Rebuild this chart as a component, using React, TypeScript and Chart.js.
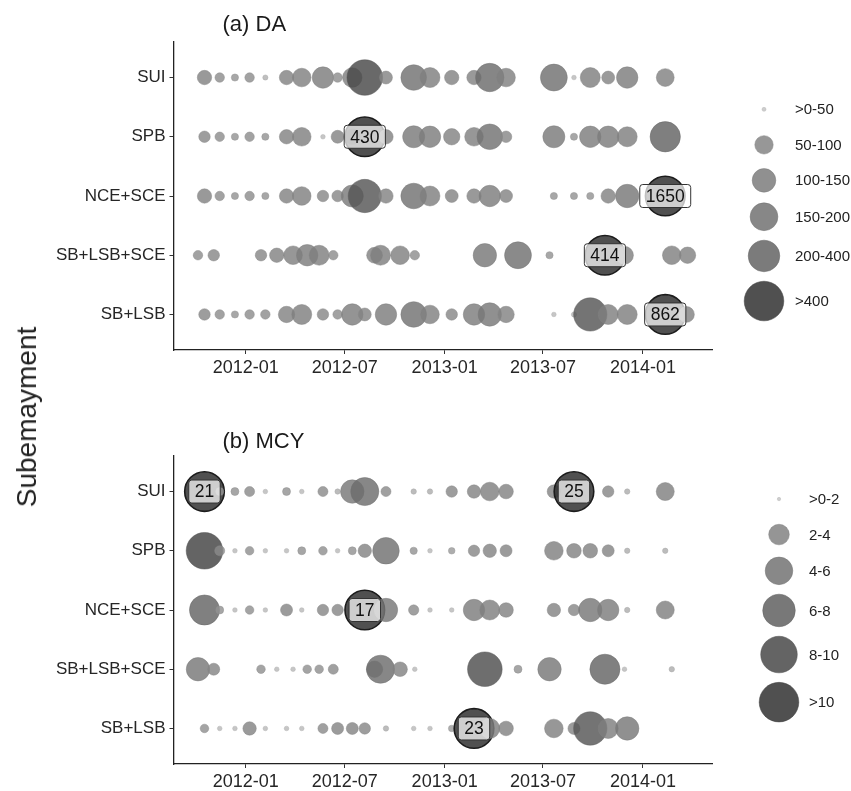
import React, { useEffect, useRef } from "react";
import { Chart, registerables } from "chart.js";

Chart.register(...registerables);

// ---------------- data ----------------
const sites = ["SUI", "SPB", "NCE+SCE", "SB+LSB+SCE", "SB+LSB"];

const datesMain = [
  "2011-10-17", "2011-11-14", "2011-12-12", "2012-01-08", "2012-02-06", "2012-03-16",
  "2012-04-13", "2012-05-22", "2012-06-18", "2012-07-15", "2012-08-07", "2012-09-15",
  "2012-11-05", "2012-12-05", "2013-01-14", "2013-02-24", "2013-03-25", "2013-04-24",
  "2013-07-21", "2013-08-27", "2013-09-26", "2013-10-29", "2013-12-03", "2014-02-11",
  "2014-03-22",
];
const datesSCE = [
  "2011-10-05", "2011-11-03", "2012-01-29", "2012-02-27", "2012-03-28", "2012-04-23",
  "2012-05-15", "2012-06-10", "2012-08-25", "2012-09-05", "2012-10-11", "2012-11-07",
  "2013-03-16", "2013-05-16", "2013-07-13", "2013-10-23", "2013-11-28", "2014-02-23",
  "2014-03-24",
];

// (a) DA
const daSUI = [36, 19, 11, 19, 4, 36, 52, 79, 19, 60, 300, 31, 124, 65, 36, 36, 158, 52, 139, 2, 65, 31, 79, 48, null];
const daSPB = [26, 19, 11, 19, 11, 36, 52, 2, 31, 40, 430, 36, 85, 79, 43, 52, 124, 26, 85, 11, 79, 79, 65, 183, null];
const daNCE = [36, 19, 11, 19, 11, 36, 52, 26, 26, 85, 242, 36, 124, 65, 31, 36, 79, 31, 11, 11, 11, 36, 98, 1650, null];
const daSCE = [19, 26, 26, 36, 52, 79, 65, 19, 41, 65, 52, 19, 98, 139, 11, 414, 48, 52, 43];
const daSBLSB = [26, 19, 11, 19, 19, 43, 65, 26, 19, 79, 31, 79, 124, 52, 26, 79, 98, 43, 2, 4, 242, 65, 65, 862, 41];

// (b) MCY
const mcySUI = [21, 0.53, 0.53, 0.77, 0.14, 0.53, 0.14, 0.77, 0.23, 2.8, 4.2, 0.77, 0.23, 0.23, 0.93, 1.16, 1.77, 1.3, 1.16, 25, null, 0.93, 0.23, 1.7, null];
const mcySPB = [8, 0.77, 0.14, 0.6, 0.14, 0.14, 0.53, 0.6, 0.14, 0.53, 1.16, 3.7, 0.45, 0.14, 0.37, 0.93, 1.16, 1.0, 1.77, 1.3, 1.3, 1.0, 0.23, 0.23, null];
const mcyNCE = [5, 0.53, 0.14, 0.6, 0.14, 1.0, 0.14, 0.93, 0.93, null, 17, 2.8, 0.8, 0.14, 0.14, 2.23, 1.93, 1.3, 1.16, 0.93, 2.8, 2.23, 0.23, 1.7, null];
const mcySCE = [2.8, 1.0, 0.6, 0.14, 0.14, 0.6, 0.6, 0.77, 1.5, 4.2, 1.3, 0.14, 7, 0.53, 2.8, 5, 0.14, 0.23, null];
const mcySBLSB = [0.6, 0.14, 0.14, 1.16, 0.14, 0.14, 0.14, 0.77, 1.0, 1.0, 0.93, 0.23, 0.14, 0.14, 0.37, 23, 1.93, 1.3, 1.77, 1.0, 6.4, 1.93, 2.8, null, null];

const tickDates = ["2012-01-01", "2012-07-01", "2013-01-01", "2013-07-01", "2014-01-01"];
const tickLabels = ["2012-01", "2012-07", "2013-01", "2013-07", "2014-01"];

const daLegendLabels = [">0-50", "50-100", "100-150", "150-200", "200-400", ">400"];
const daLegendValues = [0, 50, 100, 150, 200, 400];
const mcyLegendLabels = [">0-2", "2-4", "4-6", "6-8", "8-10", ">10"];
const mcyLegendValues = [0, 2, 4, 6, 8, 10];

// ---------------- helpers ----------------
const FONT = '"Liberation Sans", Arial, Helvetica, sans-serif';
const W = 851;

const toDay = (s: string) => {
  const [y, m, d] = s.split("-").map(Number);
  return Date.UTC(y, m - 1, d) / 86400000;
};

const allDays = [...datesMain, ...datesSCE].map(toDay);
const dMin = Math.min(...allDays);
const dMax = Math.max(...allDays);
const dExp = (dMax - dMin) * 0.05;
const xMin = dMin - dExp;
const xMax = dMax + dExp;

function interp(stops: number[][], x: number) {
  if (x <= stops[0][0]) return stops[0][1];
  for (let i = 1; i < stops.length; i++) {
    if (x <= stops[i][0]) {
      const [x0, y0] = stops[i - 1];
      const [x1, y1] = stops[i];
      return y0 + ((x - x0) / (x1 - x0)) * (y1 - y0);
    }
  }
  return stops[stops.length - 1][1];
}

const COLOR_STOPS = [[2, 205], [3.5, 168], [6, 155], [10, 150], [13.8, 136], [16.3, 120], [18.3, 100], [20, 78]];
const ALPHA = 0.82;
function fillFor(r: number) {
  const t = interp(COLOR_STOPS, r);
  const b = Math.max(0, Math.round(255 - (255 - t) / ALPHA));
  return `rgba(${b},${b},${b},${ALPHA})`;
}
function edgeFor(r: number) {
  const t = interp(COLOR_STOPS, r) - 22;
  const b = Math.max(0, Math.round(t));
  return `rgba(${b},${b},${b},0.6)`;
}

type Row = { dates: string[]; values: (number | null)[] };
type Panel = {
  title: string;
  rows: Row[];
  sizeStops: number[][];
  cap: number;
  labelMin: number;
  legendLabels: string[];
  legendValues: number[];
  height: number;
  areaTop: number;
  areaBottom: number;
  titleY: number;
  legendCx: number;
  legendTx: number;
  legendShift: number;
};

const panels: Panel[] = [
  {
    title: "(a) DA",
    rows: [
      { dates: datesMain, values: daSUI },
      { dates: datesMain, values: daSPB },
      { dates: datesMain, values: daNCE },
      { dates: datesSCE, values: daSCE },
      { dates: datesMain, values: daSBLSB },
    ],
    sizeStops: [[0, 2], [50, 9.2], [100, 11.8], [150, 13.9], [200, 15.8], [400, 19.8]],
    cap: 400,
    labelMin: 400,
    legendLabels: daLegendLabels,
    legendValues: daLegendValues,
    height: 395,
    areaTop: 42,
    areaBottom: 350,
    titleY: 25,
    legendCx: 52,
    legendTx: 83,
    legendShift: 12.6,
  },
  {
    title: "(b) MCY",
    rows: [
      { dates: datesMain, values: mcySUI },
      { dates: datesMain, values: mcySPB },
      { dates: datesMain, values: mcyNCE },
      { dates: datesSCE, values: mcySCE },
      { dates: datesMain, values: mcySBLSB },
    ],
    sizeStops: [[0, 1.7], [2, 10.3], [4, 13.8], [6, 16.3], [8, 18.3], [10, 19.8]],
    cap: 10,
    labelMin: 15,
    legendLabels: mcyLegendLabels,
    legendValues: mcyLegendValues,
    height: 396,
    areaTop: 61,
    areaBottom: 369,
    titleY: 46.5,
    legendCx: 67,
    legendTx: 97,
    legendShift: -6,
  },
];

function makeConfig(p: Panel): any {
  const radius = (v: number) => interp(p.sizeStops, v);
  const datasets = p.rows.map((row, i) => ({
    label: sites[i],
    data: row.values
      .map((v, j) => (v == null ? null : { x: toDay(row.dates[j]), y: i, r: radius(v), v }))
      .filter((d) => d !== null),
    backgroundColor: (c: any) => fillFor(c.raw ? c.raw.r : 5),
    borderColor: (c: any) => (c.raw && c.raw.v >= p.cap ? "#1c1c1c" : edgeFor(c.raw ? c.raw.r : 5)),
    borderWidth: (c: any) => (c.raw && c.raw.v >= p.cap ? 1.6 : 0.8),
    hoverRadius: 0,
    hoverBorderWidth: 0,
  }));

  const deco = {
    id: "deco",
    afterDatasetsDraw(chart: any) {
      const ctx = chart.ctx;
      chart.data.datasets.forEach((ds: any, di: number) => {
        const meta = chart.getDatasetMeta(di);
        meta.data.forEach((el: any, k: number) => {
          const raw = ds.data[k];
          if (!raw || raw.v < p.labelMin) return;
          ctx.save();
          ctx.font = `17.5px ${FONT}`;
          const text = String(raw.v);
          const tw = ctx.measureText(text).width;
          const w = tw + 12;
          const h = 23;
          const x0 = el.x - w / 2;
          const y0 = el.y - h / 2;
          ctx.beginPath();
          if (ctx.roundRect) ctx.roundRect(x0, y0, w, h, 3);
          else ctx.rect(x0, y0, w, h);
          ctx.fillStyle = "rgba(255,255,255,0.72)";
          ctx.fill();
          ctx.lineWidth = 1;
          ctx.strokeStyle = "#333";
          ctx.stroke();
          ctx.fillStyle = "#111";
          ctx.textAlign = "center";
          ctx.textBaseline = "middle";
          ctx.fillText(text, el.x, el.y + 1);
          ctx.restore();
        });
      });
    },
    afterDraw(chart: any) {
      const ctx = chart.ctx;
      const a = chart.chartArea;
      ctx.save();
      // title
      ctx.font = `22px ${FONT}`;
      ctx.fillStyle = "#1a1a1a";
      ctx.textAlign = "left";
      ctx.textBaseline = "middle";
      ctx.fillText(p.title, a.left + 49, p.titleY);
      // legend
      const rs = p.legendValues.map(radius);
      const hs = rs.map((r) => Math.max(35.5, 2 * r + 9.5));
      const total = hs.reduce((s, h) => s + h, 0);
      let y = (a.top + a.bottom) / 2 + p.legendShift - total / 2;
      ctx.font = `15px ${FONT}`;
      rs.forEach((r, i) => {
        const cy = y + hs[i] / 2;
        ctx.beginPath();
        ctx.arc(a.right + p.legendCx, cy, r, 0, Math.PI * 2);
        ctx.fillStyle = fillFor(r);
        ctx.fill();
        ctx.lineWidth = 0.8;
        ctx.strokeStyle = edgeFor(r);
        ctx.stroke();
        ctx.fillStyle = "#222";
        ctx.fillText(p.legendLabels[i], a.right + p.legendTx, cy + 1);
        y += hs[i];
      });
      ctx.restore();
    },
  };

  return {
    type: "bubble",
    data: { datasets },
    options: {
      animation: false,
      responsive: false,
      maintainAspectRatio: false,
      events: [],
      layout: { padding: { left: 0, right: W - 712, top: p.areaTop, bottom: 0 } },
      plugins: {
        legend: { display: false },
        tooltip: { enabled: false },
        title: { display: false },
      },
      scales: {
        x: {
          type: "linear",
          min: xMin,
          max: xMax,
          afterBuildTicks: (s: any) => {
            s.ticks = tickDates.map((d) => ({ value: toDay(d) }));
          },
          afterFit: (s: any) => {
            s.height = p.height - p.areaBottom;
          },
          ticks: {
            callback: (_v: any, i: number) => tickLabels[i],
            autoSkip: false,
            maxRotation: 0,
            minRotation: 0,
            padding: 3,
            color: "#262626",
            font: { family: FONT, size: 18 },
          },
          grid: {
            display: true,
            drawOnChartArea: false,
            drawTicks: true,
            tickLength: 4,
            color: "#333",
            lineWidth: 1,
          },
          border: { display: true, color: "#222", width: 1.3 },
        },
        y: {
          type: "linear",
          reverse: true,
          min: -0.6,
          max: 4.6,
          afterBuildTicks: (s: any) => {
            s.ticks = sites.map((_s, i) => ({ value: i }));
          },
          afterFit: (s: any) => {
            s.width = 173.5;
          },
          ticks: {
            callback: (_v: any, i: number) => sites[i],
            autoSkip: false,
            padding: 4,
            color: "#262626",
            font: { family: FONT, size: 17 },
          },
          grid: {
            display: true,
            drawOnChartArea: false,
            drawTicks: true,
            tickLength: 4,
            color: "#333",
            lineWidth: 1,
          },
          border: { display: true, color: "#222", width: 1.3 },
        },
      },
    },
    plugins: [deco],
  };
}

function PanelChart({ panel, top }: { panel: Panel; top: number }) {
  const ref = useRef<HTMLCanvasElement | null>(null);
  useEffect(() => {
    if (!ref.current) return;
    const chart = new Chart(ref.current, makeConfig(panel));
    return () => chart.destroy();
  }, [panel]);
  return (
    <canvas
      ref={ref}
      width={W}
      height={panel.height}
      style={{ position: "absolute", left: 0, top, width: W, height: panel.height }}
    />
  );
}

export default function App() {
  return (
    <div
      style={{
        position: "absolute",
        left: 0,
        top: 0,
        width: W,
        height: 791,
        background: "#fff",
        fontFamily: FONT,
        overflow: "hidden",
      }}
    >
      <PanelChart panel={panels[0]} top={0} />
      <PanelChart panel={panels[1]} top={395} />
      <div
        style={{
          position: "absolute",
          left: 27,
          top: 417,
          transform: "translate(-50%, -50%) rotate(-90deg)",
          fontSize: 28,
          lineHeight: 1,
          whiteSpace: "nowrap",
          color: "#222",
        }}
      >
        Subemayment
      </div>
    </div>
  );
}
